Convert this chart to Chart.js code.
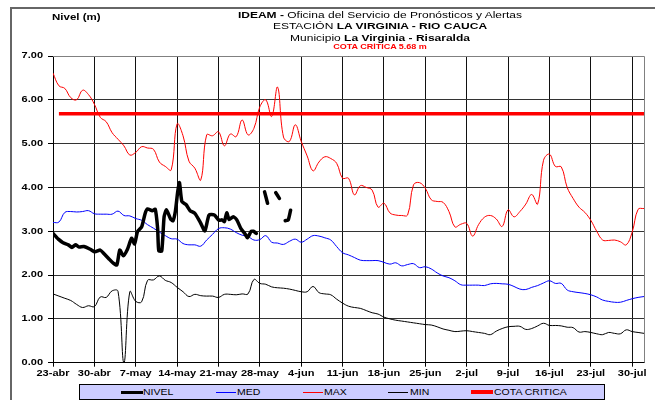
<!DOCTYPE html>
<html><head><meta charset="utf-8">
<script src="https://cdn.jsdelivr.net/npm/chart.js@4.4.0/dist/chart.umd.min.js"></script>
<style>
html,body{margin:0;padding:0;background:#fff;}
#wrap{position:relative;width:655px;height:400px;overflow:hidden;font-family:"Liberation Sans",Arial,sans-serif;color:#000;}
#c{position:absolute;left:0;top:0;}
.frame{position:absolute;left:10px;top:7px;width:700px;height:500px;border-left:2px solid #666;border-top:2px solid #666;}
.t{position:absolute;white-space:nowrap;text-align:center;transform:scaleY(0.75);}
.legend{position:absolute;left:79px;top:384px;width:524px;height:14px;background:#CCCCFF;border:1px solid #000;}
.sw{position:absolute;top:7px;height:1px;}
.lt{position:absolute;top:0;font-size:10.5px;line-height:14px;transform:scaleY(0.8);transform-origin:left center;}
</style></head>
<body><div id="wrap">
<div class="frame"></div>
<canvas id="c" width="655" height="400"></canvas>
<div class="t" style="left:52px;top:10px;font-size:11.5px;font-weight:bold;line-height:14px;text-align:left;">Nivel (m)</div>
<div class="t" style="left:180px;width:400px;top:8px;font-size:12px;line-height:15px;"><b>IDEAM -</b> Oficina del Servicio de Pronósticos y Alertas</div>
<div class="t" style="left:180px;width:400px;top:19px;font-size:12px;line-height:15px;">ESTACIÓN <b>LA VIRGINIA - RIO CAUCA</b></div>
<div class="t" style="left:180px;width:400px;top:31px;font-size:12px;line-height:15px;">Municipio <b>La Virginia - Risaralda</b></div>
<div class="t" style="left:180px;width:400px;top:42px;font-size:9px;line-height:11px;color:#FF0000;font-weight:bold;">COTA CRÍTICA 5.68 m</div>
<div class="legend">
  <div class="sw" style="left:41px;width:22px;height:3px;top:6px;background:#000;"></div>
  <div class="lt" style="left:63px;">NIVEL</div>
  <div class="sw" style="left:136px;width:20px;background:#0000FF;"></div>
  <div class="lt" style="left:157px;">MED</div>
  <div class="sw" style="left:223px;width:20px;background:#FF0000;"></div>
  <div class="lt" style="left:244px;">MAX</div>
  <div class="sw" style="left:308px;width:20px;background:#000;"></div>
  <div class="lt" style="left:330px;">MIN</div>
  <div class="sw" style="left:391px;width:22px;height:4px;top:5px;background:#FF0000;"></div>
  <div class="lt" style="left:414px;">COTA CRITICA</div>
</div>
</div>
<script>
const tickLabels = ['23-abr','30-abr','7-may','14-may','21-may','28-may','4-jun','11-jun','18-jun','25-jun','2-jul','9-jul','16-jul','23-jul','30-jul'];
const tickDays = [0,7,14,21,28,35,42,49,56,63,70,77,84,91,98];
const yTicks = [0,1,2,3,4,5,6,7];
const cotaCritica = 5.68;

const maxValues = [6.61,6.32,6.26,6.05,6.00,6.22,6.12,5.90,5.60,5.50,5.25,5.10,4.95,4.74,4.80,4.93,4.90,4.87,4.58,4.48,
  4.40,5.45,5.18,4.60,4.44,4.17,5.20,5.18,5.27,4.95,5.22,5.16,5.54,5.20,5.35,5.84,6.00,5.62,6.29,5.15,
  5.05,5.43,5.05,4.72,4.38,4.58,4.70,4.66,4.55,4.21,4.21,3.83,4.04,4.00,3.94,3.55,3.64,3.42,3.37,3.36,
  3.37,4.06,4.11,3.98,3.72,3.68,3.66,3.45,3.10,3.16,3.18,2.89,3.15,3.32,3.36,3.28,3.11,3.49,3.33,3.45,
  3.62,3.84,3.62,4.62,4.76,4.48,4.47,4.00,3.75,3.55,3.43,3.25,3.00,2.80,2.79,2.80,2.76,2.69,2.98,3.50,3.52];

const medValues = [3.20,3.21,3.43,3.45,3.44,3.45,3.47,3.40,3.39,3.39,3.39,3.46,3.36,3.35,3.29,3.25,3.15,3.07,2.98,2.90,
  2.83,2.82,2.72,2.69,2.69,2.66,2.80,2.93,3.06,3.08,3.05,2.97,2.91,2.88,2.80,2.81,2.90,2.75,2.73,2.70,
  2.77,2.82,2.75,2.82,2.90,2.89,2.85,2.80,2.65,2.51,2.46,2.40,2.34,2.33,2.33,2.33,2.29,2.25,2.28,2.21,
  2.24,2.26,2.17,2.19,2.14,2.05,1.98,1.94,1.87,1.78,1.77,1.77,1.77,1.76,1.80,1.81,1.80,1.79,1.74,1.68,
  1.67,1.72,1.76,1.82,1.87,1.81,1.81,1.66,1.62,1.60,1.58,1.55,1.50,1.43,1.40,1.38,1.38,1.42,1.46,1.49,1.51];

const minValues = [1.57,1.52,1.47,1.42,1.33,1.26,1.30,1.28,1.50,1.49,1.64,1.63,0.00,1.62,1.40,1.39,1.88,1.89,1.98,1.88,
  1.83,1.72,1.62,1.51,1.56,1.53,1.52,1.52,1.49,1.56,1.56,1.55,1.57,1.57,1.90,1.81,1.79,1.73,1.71,1.70,
  1.68,1.65,1.62,1.62,1.74,1.60,1.57,1.55,1.45,1.36,1.29,1.26,1.24,1.19,1.14,1.11,1.04,1.00,0.97,0.95,
  0.93,0.91,0.89,0.87,0.86,0.82,0.77,0.74,0.71,0.72,0.73,0.71,0.69,0.67,0.64,0.72,0.78,0.82,0.83,0.83,
  0.76,0.78,0.84,0.90,0.85,0.85,0.84,0.81,0.80,0.70,0.71,0.69,0.66,0.64,0.69,0.67,0.66,0.75,0.71,0.69,0.67];

const nivelDays = [0,0.9,1.7,2.6,3.2,3.8,4.4,5.2,6.3,7.1,8.0,8.6,9.4,10.2,10.8,11.3,11.9,12.6,13.3,13.8,
  14.3,15.0,15.6,16.0,16.8,17.3,17.7,17.9,18.4,18.8,19.2,19.9,20.3,20.7,21.1,21.4,21.8,22.5,23.2,24.0,
  24.9,25.7,26.4,27.3,28.1,28.6,29.0,29.4,29.8,30.5,31.1,31.8,32.5,32.9,33.5,33.9,34.4,35.0,35.8,36.3,
  37.0,37.7,38.3,38.8,39.3,39.8,40.2];
const nivelValues = [2.95,2.82,2.74,2.69,2.63,2.69,2.64,2.65,2.59,2.53,2.57,2.49,2.38,2.27,2.23,2.57,2.44,2.59,2.84,2.71,
  2.99,3.10,3.41,3.51,3.47,3.50,3.07,2.55,2.55,3.33,3.49,3.28,3.24,3.45,3.90,4.11,3.68,3.61,3.47,3.41,
  3.21,3.01,3.37,3.37,3.25,3.26,3.22,3.42,3.27,3.33,3.26,3.06,2.94,2.85,2.99,3.00,2.95,null,3.90,3.64,
  null,3.88,3.75,null,3.24,3.26,3.48];

const SQ = 0.75;
const FONT = '"Liberation Sans", Arial, sans-serif';
function squished(ctx, text, x, y){ ctx.save(); ctx.translate(x,y); ctx.scale(1,SQ); ctx.fillText(text,0,0); ctx.restore(); }

const labelPlugin = {
  id:'labels',
  afterDraw(chart){
    const ctx = chart.ctx, xs = chart.scales.x, ys = chart.scales.y, a = chart.chartArea;
    ctx.save();
    ctx.strokeStyle = '#808080'; ctx.lineWidth = 1;
    ctx.beginPath();
    ctx.moveTo(a.left, Math.round(a.top)+0.5); ctx.lineTo(Math.round(a.right)+0.5, Math.round(a.top)+0.5);
    ctx.lineTo(Math.round(a.right)+0.5, a.bottom);
    ctx.stroke();
    ctx.fillStyle = '#000';
    ctx.font = 'bold 11px ' + FONT;
    ctx.textBaseline = 'middle';
    ctx.textAlign = 'center';
    tickDays.forEach((d,i) => squished(ctx, tickLabels[i], xs.getPixelForValue(d), 374));
    ctx.textAlign = 'right';
    yTicks.forEach(v => squished(ctx, v.toFixed(2), 43, ys.getPixelForValue(v)));
    ctx.restore();
  }
};

const pts = (vals) => vals.map((v,i) => ({x:i, y:v}));

new Chart(document.getElementById('c'), {
  type:'line',
  data:{ datasets:[
    {label:'COTA CRITICA', data:[{x:1,y:cotaCritica},{x:100,y:cotaCritica}], borderColor:'#FF0000', borderWidth:3.5, pointRadius:0, tension:0, order:5},
    {label:'MAX', data:pts(maxValues), borderColor:'#FF0000', borderWidth:1, pointRadius:0, tension:0.4, order:4},
    {label:'MED', data:pts(medValues), borderColor:'#0000FF', borderWidth:1, pointRadius:0, tension:0.4, order:3},
    {label:'MIN', data:pts(minValues), borderColor:'#000000', borderWidth:1, pointRadius:0, tension:0.4, order:2},
    {label:'NIVEL', data:nivelDays.map((d,i)=>({x:d,y:nivelValues[i]})), borderColor:'#000000', borderWidth:3.5, pointRadius:0, tension:0.2, spanGaps:false, borderCapStyle:'round', borderJoinStyle:'round', order:1}
  ]},
  options:{
    responsive:false, animation:false, devicePixelRatio:1,
    layout:{padding:{left:0,right:11,top:56,bottom:0}},
    plugins:{legend:{display:false}, tooltip:{enabled:false}},
    scales:{
      x:{type:'linear', min:0, max:100,
        afterBuildTicks(s){ s.ticks = tickDays.map(v=>({value:v})); },
        afterFit(s){ s.height = 37.3; },
        ticks:{display:false},
        grid:{color:'#111', lineWidth:1, tickLength:4, tickColor:'#000'},
        border:{display:true, color:'#000', width:1}},
      y:{min:0, max:7,
        afterBuildTicks(s){ s.ticks = yTicks.map(v=>({value:v})); },
        afterFit(s){ s.width = 53; },
        ticks:{display:false},
        grid:{color:'#333', lineWidth:1, borderDash:[2,2], tickBorderDash:[], tickLength:5, tickColor:'#000'},
        border:{display:true, color:'#000', width:1}}
    }
  },
  plugins:[labelPlugin]
});
</script>
</body></html>
